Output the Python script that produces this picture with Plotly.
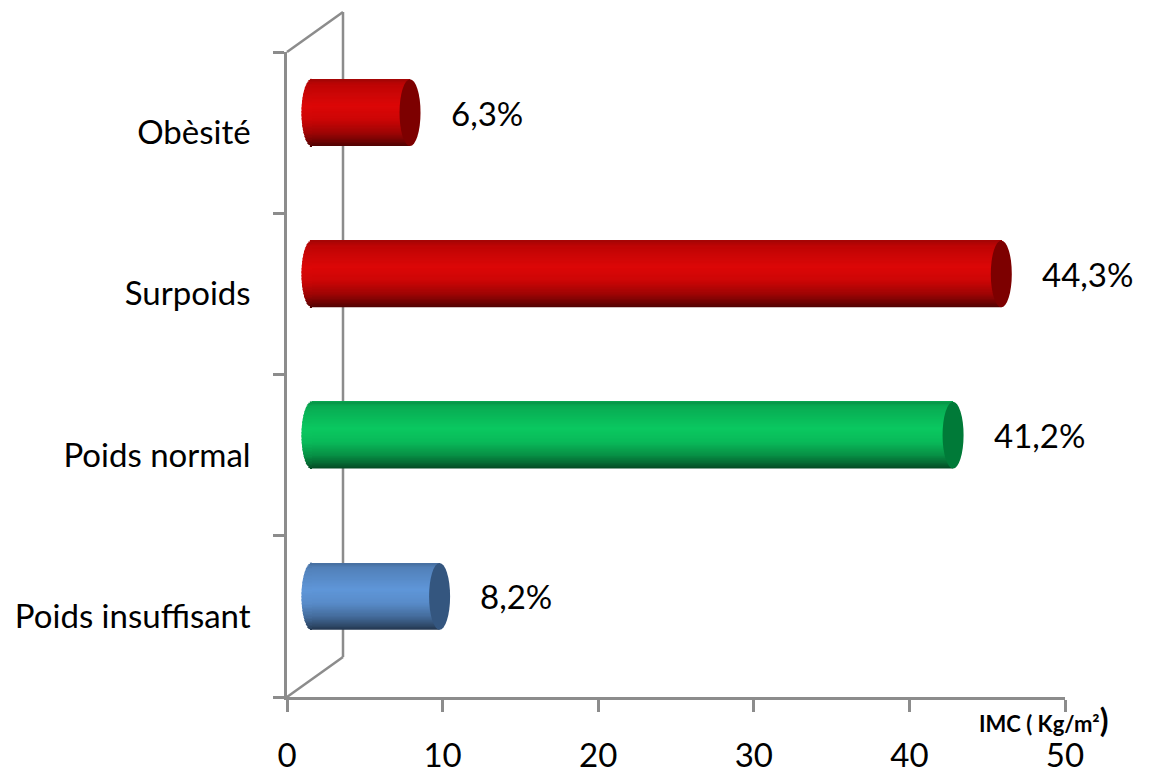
import numpy as np
import plotly.graph_objects as go

# ---- data -----------------------------------------------------------------
categories = ["Poids insuffisant", "Poids normal", "Surpoids", "Obèsité"]
percentages = [8.2, 41.2, 44.3, 6.3]
value_labels = ["8,2%", "41,2%", "44,3%", "6,3%"]
x_ticks = [0, 10, 20, 30, 40, 50]
axis_title = "IMC ( Kg/m²"

# ---- styling --------------------------------------------------------------
base_rgb = {
    "Poids insuffisant": (95, 150, 216),
    "Poids normal": (10, 200, 96),
    "Surpoids": (220, 6, 6),
    "Obèsité": (220, 6, 6),
}
cap_rgb = {
    "Poids insuffisant": (52, 86, 127),
    "Poids normal": (0, 122, 56),
    "Surpoids": (125, 0, 0),
    "Obèsité": (125, 0, 0),
}
# brightness across the cylinder, t = 0 at the top edge, 1 at the bottom edge
PROFILE_T = [0.0, 0.08, 0.40, 0.60, 0.80, 0.92, 1.0]
PROFILE_K = [0.74, 0.86, 1.0, 0.93, 0.72, 0.52, 0.36]

FONT = "Lato, 'Open Sans', sans-serif"
AXIS_GREY = "rgb(140,140,140)"
FIG_W, FIG_H = 1165, 773

# front plane of the 3D box (pixels)
FRONT_L, FRONT_R, FRONT_T, FRONT_B = 287, 1065, 52, 697
WALL_DX, WALL_DY = 56, 40          # depth of the side wall
BAR_DX, BAR_DY = 25, 20            # bars sit half way into the depth
CAP_R = 10.5                       # half-width of the end ellipses, px
BAR_W = 0.415                      # cylinder thickness in category units
N_STRIPES = 48

X_MAX = x_ticks[-1]
SCALE = (FRONT_R - FRONT_L) / X_MAX  # px per unit

PAPER_L, PAPER_R = FRONT_L, FRONT_R + BAR_DX
PAPER_T, PAPER_B = FRONT_T - BAR_DY, FRONT_B
PW, PH = PAPER_R - PAPER_L, PAPER_B - PAPER_T


def px(x, y):
    """Pixel position -> paper coordinates."""
    return (x - PAPER_L) / PW, (PAPER_B - y) / PH


def shade(rgb, k):
    return "rgb({},{},{})".format(*[int(round(min(255, c * k))) for c in rgb])


fig = go.Figure()

# invisible trace that sets up the category axis on the front plane
fig.add_trace(go.Scatter(x=percentages, y=categories, mode="markers",
                         marker=dict(opacity=0), hoverinfo="skip",
                         showlegend=False, xaxis="x", yaxis="y"))

# cylinders: layered horizontal bands give the shaded round look; each band
# runs from its lower edge up to the top of the cylinder and the next band is
# painted over it, so no gaps appear between bands
stripe_w = BAR_W / N_STRIPES
cap_units = CAP_R / SCALE
for i in range(N_STRIPES):
    t = 1 - (i + 0.5) / N_STRIPES           # 0 top, 1 bottom
    k = float(np.interp(t, PROFILE_T, PROFILE_K))
    colors = [shade(base_rgb[c], k) for c in categories]
    offset = -BAR_W / 2 + i * stripe_w
    width = BAR_W - i * stripe_w
    fig.add_trace(go.Bar(
        x=percentages, y=categories, orientation="h",
        base=0, width=width, offset=offset,
        marker=dict(color=colors, line=dict(width=0)),
        hoverinfo="skip", showlegend=False, xaxis="x2", yaxis="y2"))
    # rounded back end of the cylinder (one slice per band)
    s = -1 + (2 * i + 1) / N_STRIPES
    e = cap_units * np.sqrt(max(0.0, 1 - s * s))
    fig.add_trace(go.Bar(
        x=[e] * len(categories), y=categories, orientation="h",
        base=-e, width=stripe_w * 1.2, offset=offset,
        marker=dict(color=colors, line=dict(width=0)),
        hoverinfo="skip", showlegend=False, xaxis="x2", yaxis="y2"))

shapes = []
# end caps
for idx, (cat, val) in enumerate(zip(categories, percentages)):
    shapes.append(dict(
        type="circle", xref="x2", yref="y2", xsizemode="pixel", xanchor=val,
        x0=-CAP_R, x1=CAP_R, y0=idx - BAR_W / 2, y1=idx + BAR_W / 2,
        fillcolor=shade(cap_rgb[cat], 1.0), line=dict(width=0), layer="above"))

# side wall of the 3D box
ax, ay = px(FRONT_L, FRONT_T)
bx, by = px(FRONT_L + WALL_DX, FRONT_T - WALL_DY)
cx, cy = px(FRONT_L + WALL_DX, FRONT_B - WALL_DY)
dx_, dy_ = px(FRONT_L, FRONT_B)
for (x0, y0, x1, y1) in [(ax, ay, bx, by), (bx, by, cx, cy), (cx, cy, dx_, dy_)]:
    shapes.append(dict(type="line", xref="paper", yref="paper",
                       x0=x0, y0=y0, x1=x1, y1=y1,
                       line=dict(color=AXIS_GREY, width=2.5), layer="below"))

annotations = []
for cat, val, lab in zip(categories, percentages, value_labels):
    annotations.append(dict(
        x=val, y=cat, xref="x2", yref="y2", text=lab, showarrow=False,
        xanchor="left", yanchor="middle", xshift=CAP_R + 28,
        font=dict(family=FONT, size=33, color="black")))

tx, ty = px(1110, 719)
annotations.append(dict(
    x=tx, y=ty, xref="paper", yref="paper", showarrow=False,
    xanchor="right", yanchor="middle",
    text="<b>" + axis_title + "<span style='font-size:32px'>)</span></b>",
    font=dict(family=FONT, size=22, color="black")))

fig.update_layout(
    width=FIG_W, height=FIG_H,
    margin=dict(l=PAPER_L, r=FIG_W - PAPER_R, t=PAPER_T, b=FIG_H - PAPER_B,
                autoexpand=False),
    paper_bgcolor="white", plot_bgcolor="rgba(0,0,0,0)",
    barmode="overlay", showlegend=False,
    shapes=shapes, annotations=annotations,
    xaxis=dict(
        domain=[0, (FRONT_R - FRONT_L) / PW], range=[0, X_MAX],
        tickvals=x_ticks, ticks="outside", ticklen=12, tickwidth=2.5,
        tickcolor=AXIS_GREY, showline=True, linecolor=AXIS_GREY, linewidth=2.5,
        showgrid=False, zeroline=False, ticklabelstandoff=16, automargin=False,
        tickfont=dict(family=FONT, size=33, color="black"), anchor="y"),
    yaxis=dict(
        domain=[0, (FRONT_B - FRONT_T) / PH], range=[-0.5, len(categories) - 0.5],
        type="category", categoryorder="array", categoryarray=categories,
        ticks="outside", tickson="boundaries", ticklen=11, tickwidth=2.5,
        tickcolor=AXIS_GREY, showline=True, linecolor=AXIS_GREY, linewidth=2.5,
        showgrid=False, zeroline=False, ticklabelstandoff=27, automargin=False,
        tickfont=dict(family=FONT, size=33, color="black"), anchor="x"),
    xaxis2=dict(domain=[0, 1], range=[-BAR_DX / SCALE, X_MAX],
                visible=False, anchor="y2"),
    yaxis2=dict(domain=[BAR_DY / PH, 1], range=[-0.5, len(categories) - 0.5],
                type="category", categoryorder="array", categoryarray=categories,
                visible=False, anchor="x2"),
)

fig.write_html("out.html")
